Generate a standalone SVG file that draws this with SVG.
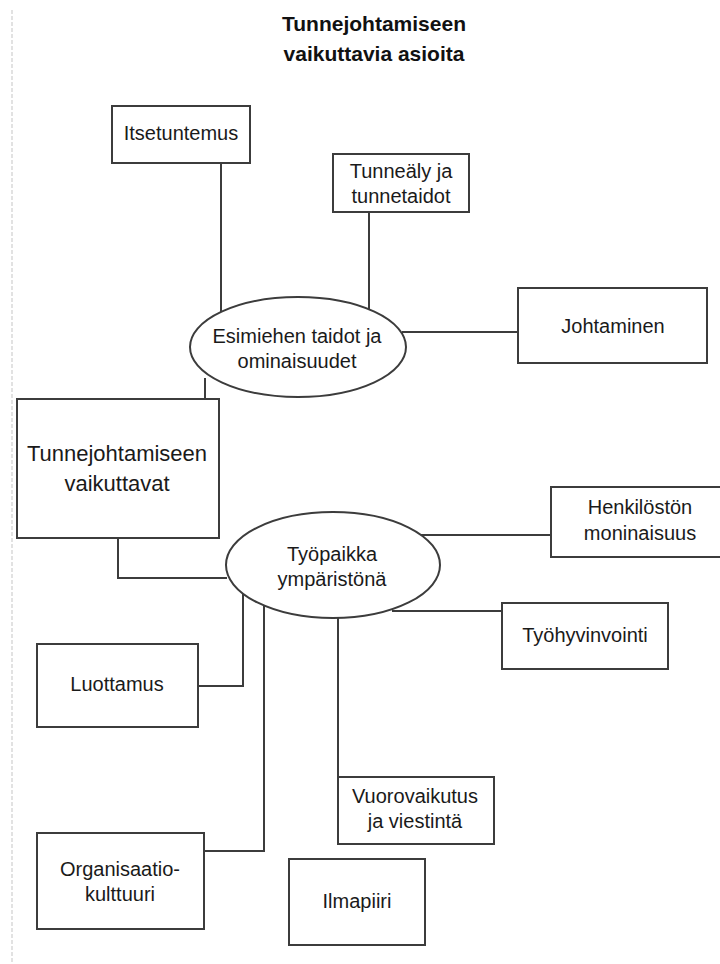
<svg xmlns="http://www.w3.org/2000/svg" width="720" height="964" viewBox="0 0 720 964">
<style>
.box{fill:#fff;stroke:#3c3c3c;stroke-width:2}
.ell{fill:#fff;stroke:#3c3c3c;stroke-width:2}
.ln{fill:none;stroke:#3c3c3c;stroke-width:2}
.t{font-family:"Liberation Sans",Arial,sans-serif;font-size:20px;fill:#1a1a1a;text-anchor:middle}
.big{font-size:22px}
.title{font-family:"Liberation Sans",Arial,sans-serif;font-size:21px;font-weight:bold;fill:#111;text-anchor:middle}
</style>
<rect width="720" height="964" fill="#fff"/>
<line x1="12" y1="10" x2="12" y2="964" stroke="#e2e2e2" stroke-width="2" stroke-dasharray="4 2"/>
<g id="title">
<text class="title" x="374" y="31">Tunnejohtamiseen</text>
<text class="title" x="374" y="61">vaikuttavia asioita</text>
</g>
<g id="connectors">
<path class="ln" d="M221 163 V318"/>
<path class="ln" d="M369 212 V312"/>
<path class="ln" d="M402 332 H518"/>
<path class="ln" d="M205 378 V399"/>
<path class="ln" d="M118 538 V578 H227"/>
<path class="ln" d="M421 535 H551"/>
<path class="ln" d="M392 611 H502"/>
<path class="ln" d="M243 592 V686 H198"/>
<path class="ln" d="M264 605 V851 H204"/>
<path class="ln" d="M338 617 V777"/>
</g>
<g id="itsetuntemus">
<rect class="box" x="112" y="106" width="138" height="57"/>
<text class="t" x="181" y="140">Itsetuntemus</text>
</g>
<g id="tunnealy">
<rect class="box" x="333" y="154" width="136" height="58"/>
<text class="t" x="401" y="178">Tunneäly ja</text>
<text class="t" x="401" y="203">tunnetaidot</text>
</g>
<g id="johtaminen">
<rect class="box" x="518" y="288" width="189" height="75"/>
<text class="t" x="613" y="333">Johtaminen</text>
</g>
<g id="esimies">
<ellipse class="ell" cx="298" cy="347" rx="108" ry="50"/>
<text class="t" x="297" y="343">Esimiehen taidot ja</text>
<text class="t" x="297" y="368">ominaisuudet</text>
</g>
<g id="vaikuttavat">
<rect class="box" x="17" y="399" width="202" height="139"/>
<text class="t big" x="117" y="461">Tunnejohtamiseen</text>
<text class="t big" x="117" y="491">vaikuttavat</text>
</g>
<g id="tyopaikka">
<ellipse class="ell" cx="333" cy="565" rx="107" ry="53"/>
<text class="t" x="332" y="561">Työpaikka</text>
<text class="t" x="332" y="586">ympäristönä</text>
</g>
<g id="henkilosto">
<rect class="box" x="551" y="487" width="172" height="70"/>
<text class="t" x="640" y="514">Henkilöstön</text>
<text class="t" x="640" y="540">moninaisuus</text>
</g>
<g id="tyohyvinvointi">
<rect class="box" x="502" y="603" width="166" height="66"/>
<text class="t" x="585" y="642">Työhyvinvointi</text>
</g>
<g id="luottamus">
<rect class="box" x="37" y="644" width="161" height="83"/>
<text class="t" x="117" y="691">Luottamus</text>
</g>
<g id="organisaatio">
<rect class="box" x="37" y="833" width="167" height="96"/>
<text class="t" x="120" y="876">Organisaatio-</text>
<text class="t" x="120" y="901">kulttuuri</text>
</g>
<g id="vuorovaikutus">
<rect class="box" x="338" y="777" width="156" height="67"/>
<text class="t" x="415" y="803">Vuorovaikutus</text>
<text class="t" x="415" y="828">ja viestintä</text>
</g>
<g id="ilmapiiri">
<rect class="box" x="289" y="859" width="136" height="86"/>
<text class="t" x="357" y="908">Ilmapiiri</text>
</g>
</svg>
